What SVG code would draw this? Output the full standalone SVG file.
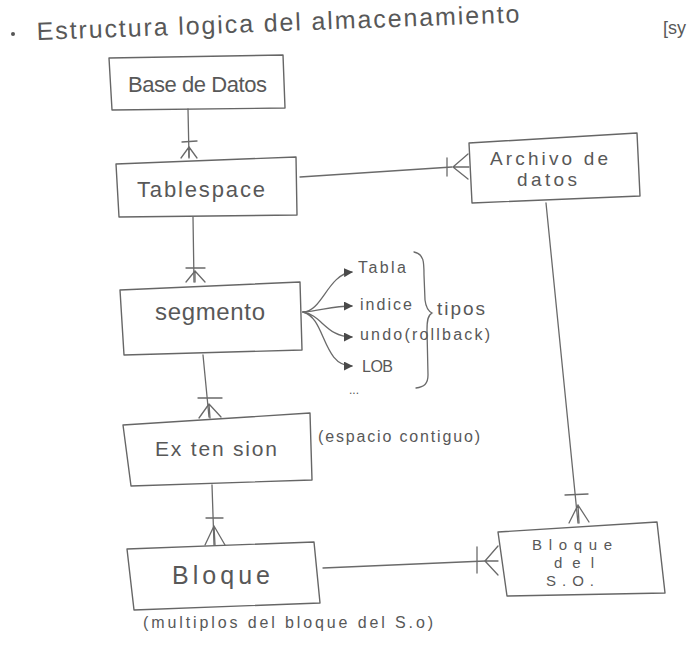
<svg xmlns="http://www.w3.org/2000/svg" width="693" height="659" viewBox="0 0 693 659">
<style>
  .box { fill: none; stroke: #666; stroke-width: 1.4; stroke-linejoin: round; }
  .ln { fill: none; stroke: #6a6a6a; stroke-width: 1.3; stroke-linecap: round; }
  .t { font-family: "Liberation Sans", "DejaVu Sans", sans-serif; fill: #585858; }
  .lbl { font-size: 22px; }
  .sm { font-size: 17px; }
  .note { font-size: 16px; }
</style>
<defs>
  <marker id="tri" viewBox="0 0 10 10" refX="9" refY="5" markerWidth="9" markerHeight="9" markerUnits="userSpaceOnUse" orient="auto">
    <path d="M0,0 L10,5 L0,10 Z" fill="#4a4a4a"/>
  </marker>
</defs>
<rect width="693" height="659" fill="#ffffff"/>

<g id="title">
  <circle cx="13" cy="34" r="2" fill="#555"/>
  <text class="t" x="37" y="40" font-size="25" textLength="483" lengthAdjust="spacing" transform="rotate(-2.1 37 40)">Estructura logica del almacenamiento</text>
  <text class="t" x="663" y="34" font-size="18">[sy</text>
</g>

<g id="connectors">
  <!-- Base de Datos - Tablespace -->
  <path class="ln" d="M188,109 L189,157"/>
  <path class="ln" d="M182,142 L197,141"/>
  <path class="ln" d="M189,147 L181,158 M189,147 L189,158 M189,147 L197,158"/>
  <!-- Tablespace - segmento -->
  <path class="ln" d="M193,217 L194,282"/>
  <path class="ln" d="M186,268 L205,268"/>
  <path class="ln" d="M195,271 L186,282 M195,271 L195,282 M195,271 L205,282"/>
  <!-- segmento - Extension -->
  <path class="ln" d="M203,355 L209,417"/>
  <path class="ln" d="M198,398 L222,398"/>
  <path class="ln" d="M209,404 L199,418 M209,404 L210,418 M209,404 L221,417"/>
  <!-- Extension - Bloque -->
  <path class="ln" d="M212,485 L214,545"/>
  <path class="ln" d="M206,518 L223,518"/>
  <path class="ln" d="M214,526 L205,545 M214,526 L215,545 M214,526 L225,545"/>
  <!-- Tablespace - Archivo de datos -->
  <path class="ln" d="M300,177 L452,167"/>
  <path class="ln" d="M447,158 L447,176"/>
  <path class="ln" d="M453,167 L468,154 M453,167 L469,167 M453,167 L468,179"/>
  <!-- Archivo de datos - Bloque del S.O. -->
  <path class="ln" d="M546,203 L578,523"/>
  <path class="ln" d="M565,495 L588,494"/>
  <path class="ln" d="M578,505 L569,523 M578,505 L579,523 M578,505 L589,522"/>
  <!-- Bloque - Bloque del S.O. -->
  <path class="ln" d="M323,568 L485,561"/>
  <path class="ln" d="M477,547 L477,573"/>
  <path class="ln" d="M485,561 L498,546 M485,561 L498,561 M485,561 L498,575"/>
  <!-- segmento types fan -->
  <path class="ln" d="M303,312 C322,312 328,274 352,272" marker-end="url(#tri)"/>
  <path class="ln" d="M303,312 C320,311 332,306 352,306" marker-end="url(#tri)"/>
  <path class="ln" d="M303,312 C322,315 326,337 352,337" marker-end="url(#tri)"/>
  <path class="ln" d="M303,312 C326,318 322,366 352,366" marker-end="url(#tri)"/>
  <!-- brace -->
  <path class="ln" d="M414,252 C424,254 424,262 424,275 L425,300 C426,308 428,311 432,313 C428,315 427,320 427,330 L428,375 C428,384 424,387 416,388"/>
</g>

<g id="base-de-datos">
  <path class="box" d="M109,58 L283,55 L285,108 L112,110 Z"/>
  <text class="t lbl" x="128" y="92" textLength="139" lengthAdjust="spacing">Base de Datos</text>
</g>

<g id="tablespace">
  <path class="box" d="M116,164 L296,157 L297,215 L119,217 Z"/>
  <text class="t lbl" x="137" y="197" textLength="128" lengthAdjust="spacing">Tablespace</text>
</g>

<g id="archivo-de-datos">
  <path class="box" d="M469,143 L637,133 L640,196 L472,203 Z"/>
  <text class="t" font-size="19" x="490" y="165" textLength="118" lengthAdjust="spacing">Archivo de</text>
  <text class="t" font-size="19" x="517" y="186" textLength="60" lengthAdjust="spacing">datos</text>
</g>

<g id="segmento">
  <path class="box" d="M120,290 L300,282 L302,350 L124,355 Z"/>
  <text class="t" font-size="24" x="155" y="320" textLength="110" lengthAdjust="spacing">segmento</text>
</g>

<g id="tipos">
  <text class="t note" x="358" y="273" textLength="48" lengthAdjust="spacing">Tabla</text>
  <text class="t note" x="360" y="310" textLength="52" lengthAdjust="spacing">indice</text>
  <text class="t note" x="360" y="340" textLength="130" lengthAdjust="spacing">undo(rollback)</text>
  <text class="t note" x="362" y="372" textLength="31" lengthAdjust="spacing">LOB</text>
  <text class="t" font-size="12" x="349" y="394">...</text>
  <text class="t" font-size="19" x="437" y="315" textLength="48" lengthAdjust="spacing">tipos</text>
</g>

<g id="extension">
  <path class="box" d="M123,425 L310,413 L312,480 L131,486 Z"/>
  <text class="t" font-size="21" x="155" y="456" textLength="122" lengthAdjust="spacing">Ex ten sion</text>
  <text class="t note" x="318" y="442" textLength="162" lengthAdjust="spacing">(espacio contiguo)</text>
</g>

<g id="bloque">
  <path class="box" d="M127,549 L314,542 L320,603 L134,610 Z"/>
  <text class="t" font-size="25" x="172" y="584" textLength="98" lengthAdjust="spacing">Bloque</text>
  <text class="t note" x="143" y="628" textLength="290" lengthAdjust="spacing">(multiplos del bloque del S.o)</text>
</g>

<g id="bloque-del-so">
  <path class="box" d="M498,532 L657,522 L665,593 L507,596 Z"/>
  <text class="t" font-size="15" x="532" y="550" textLength="80" lengthAdjust="spacing">Bloque</text>
  <text class="t" font-size="15" x="554" y="568" textLength="40" lengthAdjust="spacing">del</text>
  <text class="t" font-size="15" x="546" y="586" textLength="48" lengthAdjust="spacing">S.O.</text>
</g>
</svg>
